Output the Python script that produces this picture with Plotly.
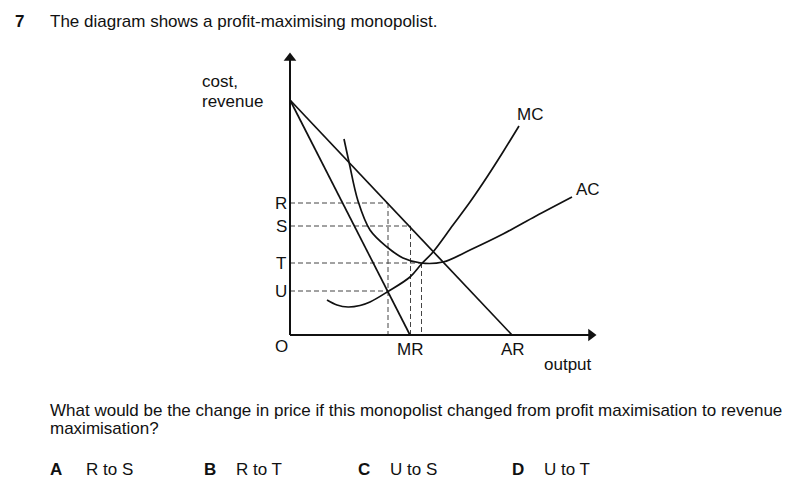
import plotly.graph_objects as go

# ---- data (diagram units: origin O at (0,0)) ----
ar_x = [0, 222]
ar_y = [235, 0]
mr_x = [0, 120]
mr_y = [235, 0]

mc_x = [37, 47, 58, 70, 80, 98, 120, 131, 143, 163, 180, 197, 213, 229]
mc_y = [35, 30, 28, 29.5, 33, 43.5, 58, 70.5, 83, 110, 133, 158, 183, 209]

ac_x = [54, 59, 68, 80, 97, 113, 131, 153, 180, 213, 246, 282]
ac_y = [196, 173, 134, 105, 88, 77, 72, 73, 85, 101, 119, 138]

price_labels = ["R", "S", "T", "U"]
price_levels = [132, 109, 72, 44]
price_qty = [98, 120.5, 131.5, 98]   # where each dashed horizontal ends
drop_qty = [98, 120.5, 131.5]        # vertical dashed drops
drop_top = [132, 109, 72]

x_axis_end = 306
y_axis_end = 282

BLACK = "#111111"
FONT = "Liberation Sans, Arial, sans-serif"
FS = 17

# page is offset by the browser's 8px body margin
OFF = 8
W, H = 800 - OFF, 494 - OFF

fig = go.Figure()

# dashed guides
for lvl, q in zip(price_levels, price_qty):
    fig.add_trace(go.Scatter(x=[0, q], y=[lvl, lvl], mode="lines",
                             line=dict(color="#444444", width=1, dash="5px,3px"),
                             hoverinfo="skip"))
for q, top in zip(drop_qty, drop_top):
    fig.add_trace(go.Scatter(x=[q, q], y=[top, 0], mode="lines",
                             line=dict(color="#444444", width=1, dash="5px,3px"),
                             hoverinfo="skip"))

# curves
fig.add_trace(go.Scatter(x=ar_x, y=ar_y, mode="lines", line=dict(color=BLACK, width=1.7)))
fig.add_trace(go.Scatter(x=mr_x, y=mr_y, mode="lines", line=dict(color=BLACK, width=1.7)))
fig.add_trace(go.Scatter(x=mc_x, y=mc_y, mode="lines", line=dict(color=BLACK, width=1.7, shape="spline", smoothing=1.0)))
fig.add_trace(go.Scatter(x=ac_x, y=ac_y, mode="lines", line=dict(color=BLACK, width=1.7, shape="spline", smoothing=1.0)))

# axes
fig.add_trace(go.Scatter(x=[0, x_axis_end - 6], y=[0, 0], mode="lines", line=dict(color=BLACK, width=2)))
fig.add_trace(go.Scatter(x=[0, 0], y=[0, y_axis_end - 6], mode="lines", line=dict(color=BLACK, width=2)))
fig.add_trace(go.Scatter(x=[x_axis_end - 5], y=[0], mode="markers",
                         marker=dict(symbol="triangle-right", size=11, color=BLACK, line=dict(width=0))))
fig.add_trace(go.Scatter(x=[0], y=[y_axis_end - 5], mode="markers",
                         marker=dict(symbol="triangle-up", size=11, color=BLACK, line=dict(width=0))))

ann = []
def dtext(x, y, t, xa="center", size=FS):
    ann.append(dict(x=x, y=y, xref="x", yref="y", text=t, showarrow=False,
                    xanchor=xa, yanchor="middle", font=dict(family=FONT, size=size, color=BLACK)))

def ptext(px, py, t, xa="left", size=FS):
    ann.append(dict(x=(px - OFF) / W, y=1 - (py - OFF) / H, xref="paper", yref="paper", text=t,
                    showarrow=False, xanchor=xa, yanchor="middle",
                    font=dict(family=FONT, size=size, color=BLACK)))

for lab, lvl in zip(price_labels, price_levels):
    dtext(-9, lvl, lab)
dtext(-9, -11, "O")
dtext(120, -14, "MR")
dtext(223, -14, "AR")
dtext(278, -29, "output")
dtext(240, 221, "MC")
dtext(298, 146, "AC")
dtext(-90, 254, "cost,", xa="left")
dtext(-90, 234, "revenue", xa="left")

ptext(13, 22, "<b>7</b>")
ptext(48, 22, "The diagram shows a profit-maximising monopolist.")
ptext(48, 410, "What would be the change in price if this monopolist changed from profit maximisation to revenue")
ptext(48, 428, "maximisation?")
opts = [("A", "R to S", 48, 84), ("B", "R to T", 202, 234), ("C", "U to S", 356, 388), ("D", "U to T", 510, 542)]
for letter, txt, lx, tx in opts:
    ptext(lx, 469, f"<b>{letter}</b>")
    ptext(tx, 469, txt)

fig.update_layout(
    width=W, height=H,
    margin=dict(l=0, r=0, t=0, b=0),
    paper_bgcolor="white", plot_bgcolor="white",
    showlegend=False,
    xaxis=dict(range=[OFF - 290, 800 - 290], visible=False, fixedrange=True),
    yaxis=dict(range=[335 - 494, 335 - OFF], visible=False, fixedrange=True),
    annotations=ann,
)

fig.write_html("out.html")
